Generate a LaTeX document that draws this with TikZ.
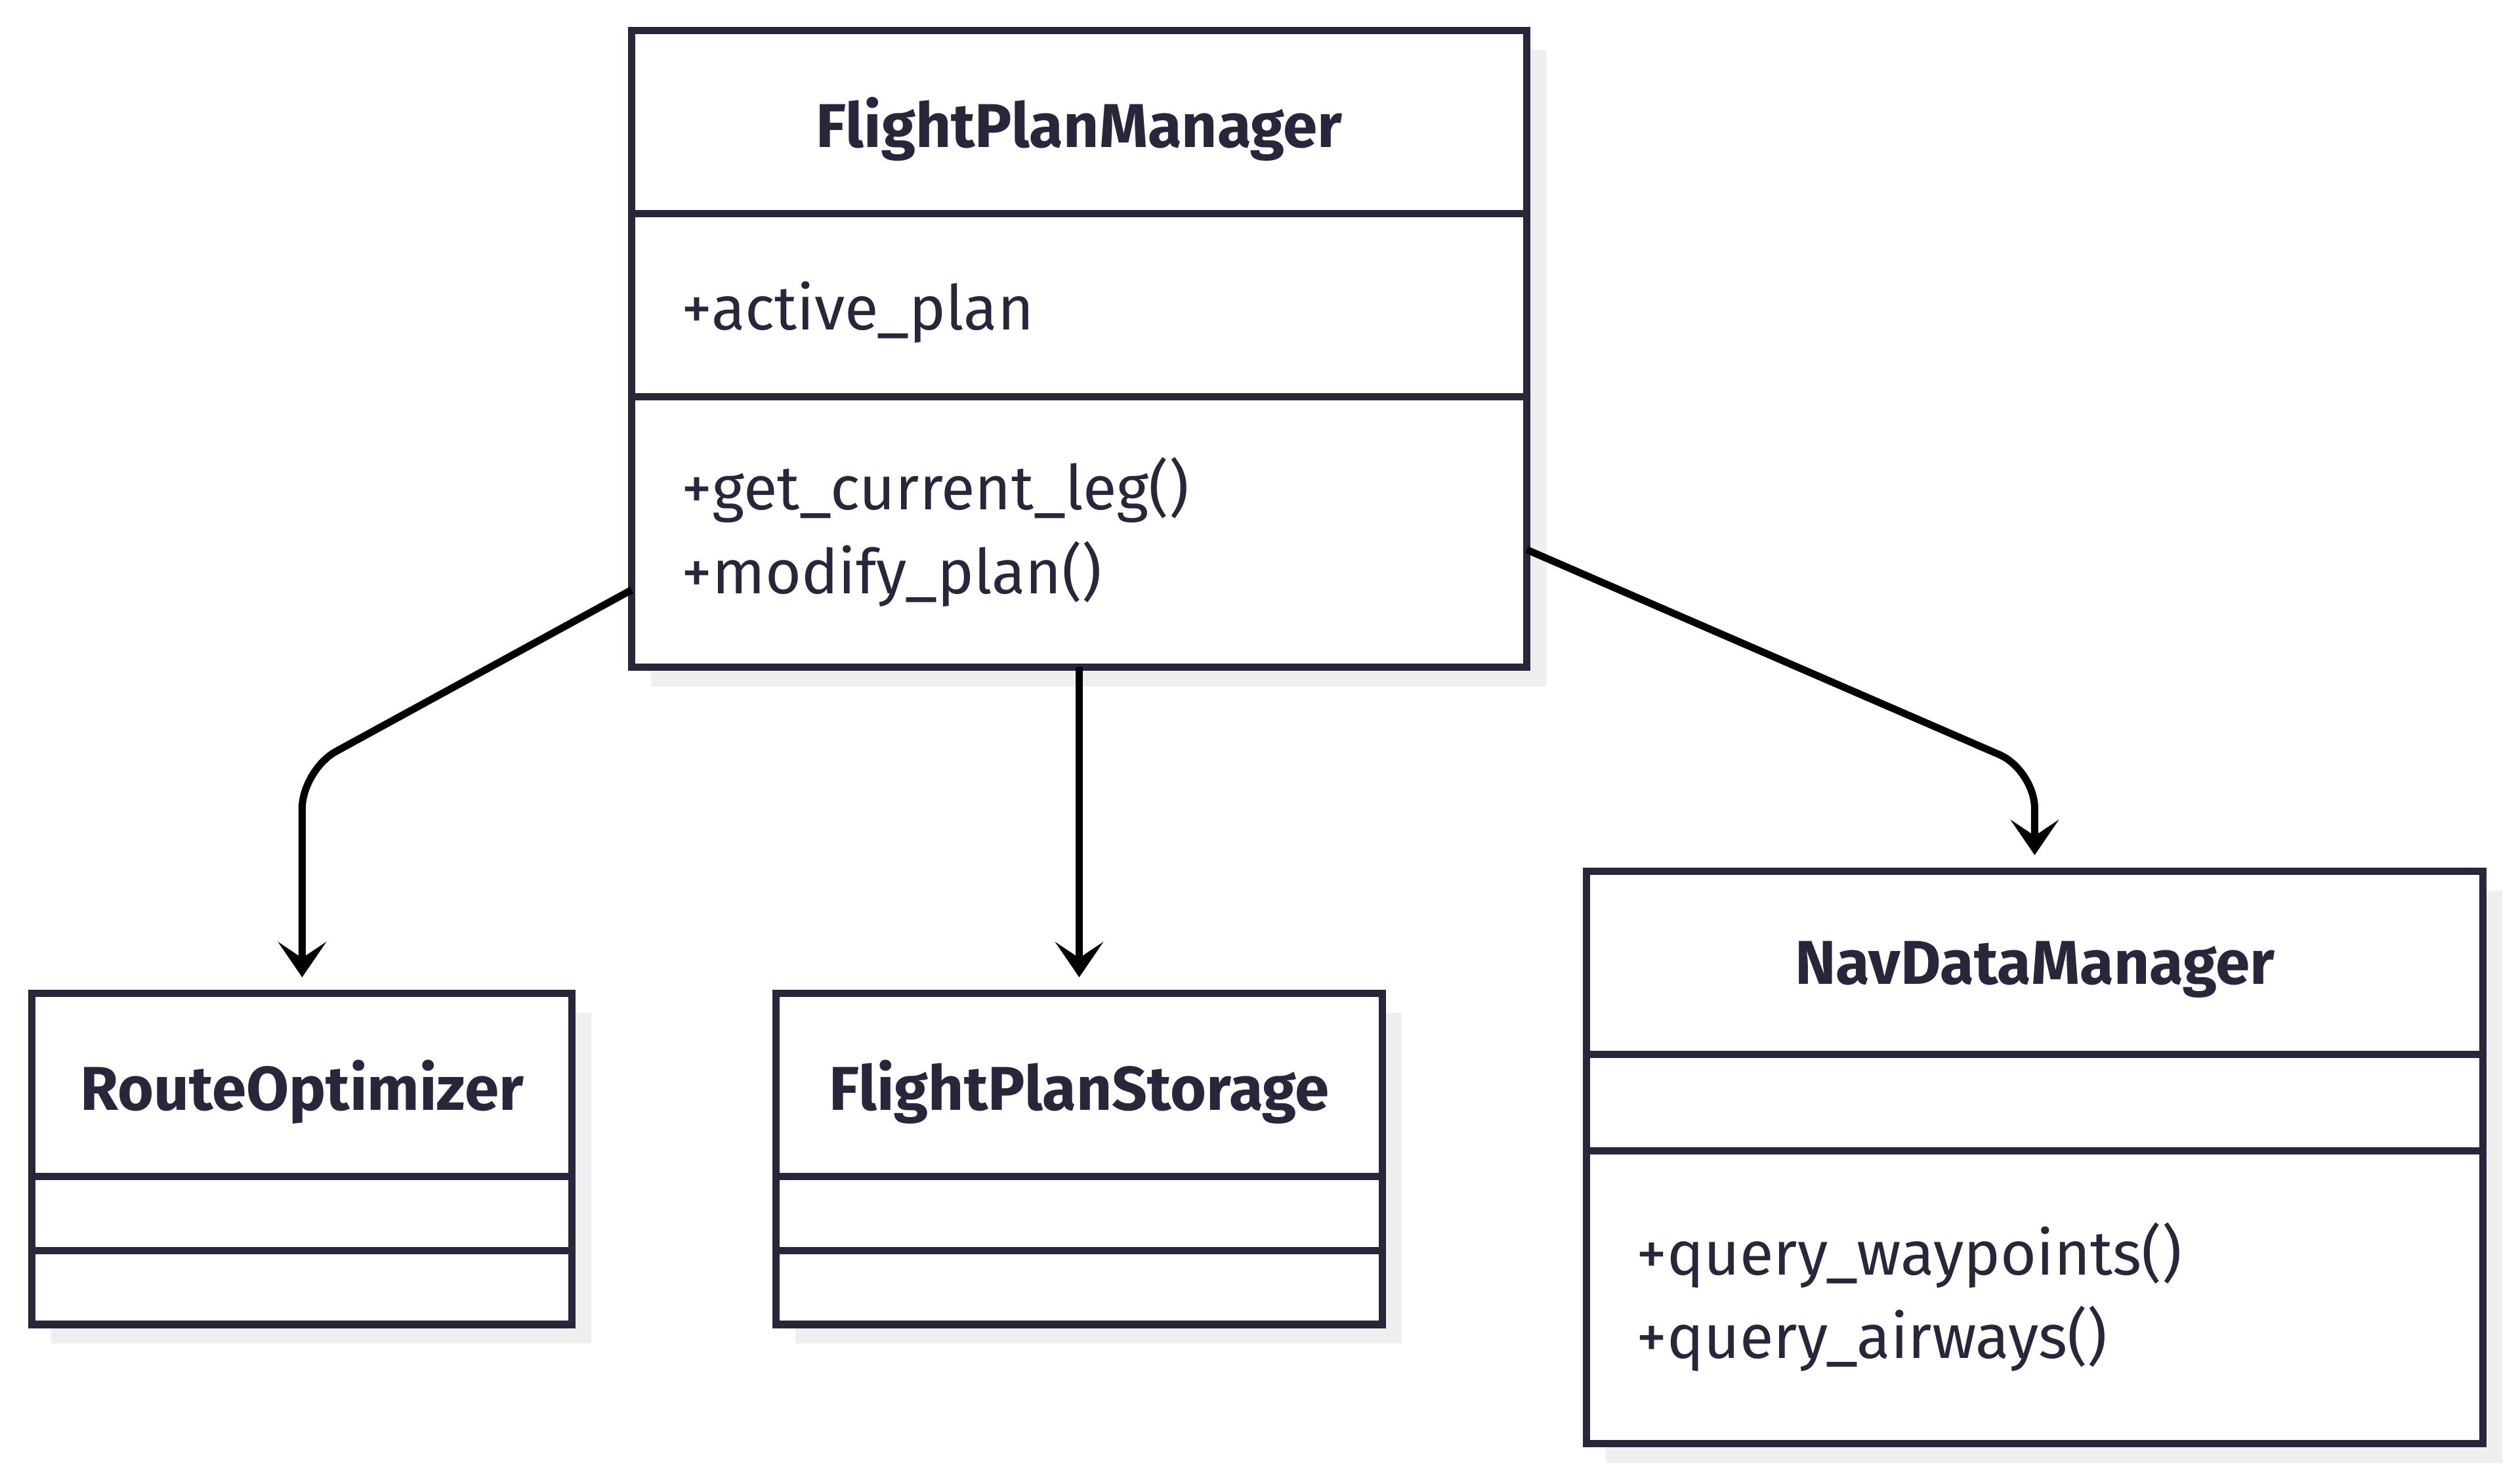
\documentclass[tikz,border=0pt]{standalone}
\usepackage{fontspec}
\setmainfont{Fira Sans}
\usepackage{xcolor}
\usetikzlibrary{arrows.meta,positioning,calc,backgrounds}
\definecolor{umlInk}{RGB}{39,38,59}
\definecolor{umlShadow}{RGB}{239,239,239}
\colorlet{classline}{umlInk}
\colorlet{shadowgray}{umlShadow}

\tikzset{
  classbox/.style={draw=classline,line width=4.5pt,fill=white,outer sep=0pt,inner sep=0pt,text=umlInk},
  classname/.style={classbox,minimum width=#1,minimum height=114pt,text depth=0pt,font=\bfseries\fontsize{38.5}{44}\selectfont},
  members/.style={classbox,text width=#1,inner xsep=31pt,align=left,font=\fontsize{38.5}{52}\selectfont},
  conn/.style={-{Stealth[length=22pt,width=30pt,inset=10pt]},line width=4.5pt,rounded corners=24pt,shorten >=10pt}
}

\begin{document}
\begin{tikzpicture}[x=1pt,y=1pt]
\useasboundingbox (0,0) rectangle (1568,-922);
% FlightPlanManager
\node[classname=557pt] (fpm) at (671.5,-76) {FlightPlanManager};
\node[members=495pt,minimum height=114pt,text depth=0pt,below=0pt of fpm] (fpm-attr) {+active\_plan};
\node[members=495pt,minimum height=168pt,below=0pt of fpm-attr] (fpm-ops) {+get\_current\_leg()\\+modify\_plan()};
% RouteOptimizer
\node[classname=336pt] (ro) at (188,-675) {RouteOptimizer};
\node[members=274pt,minimum height=46pt,below=0pt of ro] (ro-attr) {};
\node[members=274pt,minimum height=46pt,below=0pt of ro-attr] (ro-ops) {};
% FlightPlanStorage
\node[classname=377pt] (fps) at (671.5,-675) {FlightPlanStorage};
\node[members=315pt,minimum height=46pt,below=0pt of fps] (fps-attr) {};
\node[members=315pt,minimum height=46pt,below=0pt of fps-attr] (fps-ops) {};
% NavDataManager
\node[classname=558pt] (ndm) at (1266,-599) {NavDataManager};
\node[members=496pt,minimum height=60pt,below=0pt of ndm] (ndm-attr) {};
\node[members=496pt,minimum height=182pt,below=0pt of ndm-attr] (ndm-ops) {+query\_waypoints()\\+query\_airways()};

\begin{scope}[on background layer]
\foreach \cls in {fpm,ro,fps,ndm}
  \fill[shadowgray] ($(\cls.north west)+(12,-12)$) rectangle ($(\cls-ops.south east)+(12,-12)$);
\end{scope}

\draw[conn] ($(fpm-ops.south west)+(0,48)$) -- ($(ro.north)+(0,139)$) -- (ro.north);
\draw[conn] (fpm-ops.south) -- (fps.north);
\draw[conn] ($(fpm-ops.south east)+(0,73)$) -- ($(ndm.north)+(0,63)$) -- (ndm.north);
\end{tikzpicture}
\end{document}
